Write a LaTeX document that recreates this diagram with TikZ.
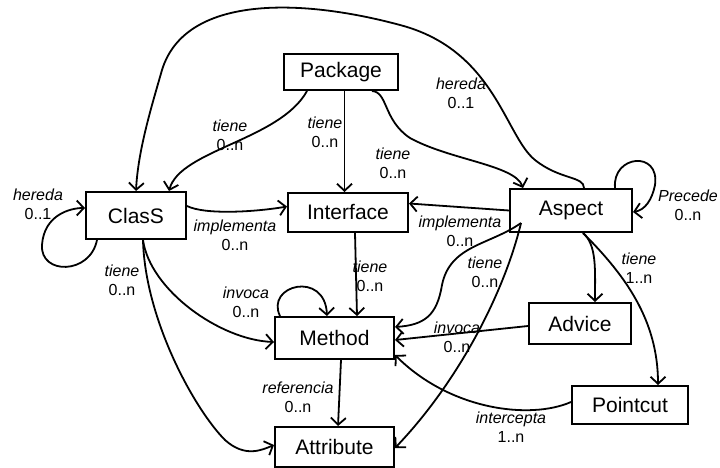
\documentclass[tikz,border=0pt]{standalone}
\usepackage{fontspec}
\setmainfont{Liberation Sans}
\usetikzlibrary{arrows.meta}

\begin{document}
\begin{tikzpicture}[x=1pt, y=-1pt,
  entity/.style={draw, line width=2pt, inner sep=0pt, font=\fontsize{21}{24}\selectfont},
  lbl/.style={align=center, inner sep=0pt, font=\fontsize{16}{19}\selectfont},
  arr/.style={line width=1.8pt, -{Straight Barb[length=7pt, width=15pt]}}]
\useasboundingbox (0,0) rectangle (720,468);
% entities
\node[entity, minimum width=114pt, minimum height=36pt] (package) at (341,72) {Package};
\node[entity, minimum width=100pt, minimum height=47pt] (clas) at (136,215.5) {ClasS};
\node[entity, minimum width=120pt, minimum height=39pt] (iface) at (348,212.5) {Interface};
\node[entity, minimum width=122pt, minimum height=43pt] (aspect) at (571,210.5) {Aspect};
\node[entity, minimum width=119pt, minimum height=42pt] (method) at (334.5,338) {Method};
\node[entity, minimum width=119pt, minimum height=40pt] (attr) at (334.5,447) {Attribute};
\node[entity, minimum width=102pt, minimum height=41pt] (advice) at (580,323.5) {Advice};
\node[entity, minimum width=116pt, minimum height=38pt] (pointcut) at (630,405) {Pointcut};
% labels
\node[lbl] (lClasLoop) at (38,204) {\textit{hereda}\\0..1};
\node[lbl] (lPkgClas) at (230,135) {\textit{tiene}\\0..n};
\node[lbl] (lPkgIface) at (325,132) {\textit{tiene}\\0..n};
\node[lbl] (lPkgAspect) at (393,163) {\textit{tiene}\\0..n};
\node[lbl] (lAspectClas) at (461,93) {\textit{hereda}\\0..1};
\node[lbl] (lClasIface) at (235,235) {\textit{implementa}\\0..n};
\node[lbl] (lAspectIface) at (460,231) {\textit{implementa}\\0..n};
\node[lbl] (lAspectLoop) at (688,205) {\textit{Precede}\\0..n};
\node[lbl] (lClasMethod) at (122,280) {\textit{tiene}\\0..n};
\node[lbl] (lIfaceMethod) at (370,276) {\textit{tiene}\\0..n};
\node[lbl] (lMethodLoop) at (246,302) {\textit{invoca}\\0..n};
\node[lbl] (lAspectMethod) at (485,272) {\textit{tiene}\\0..n};
\node[lbl] (lAspectAdvice) at (639,268) {\textit{tiene}\\1..n};
\node[lbl] (lAdviceMethod) at (457,337) {\textit{invoca}\\0..n};
\node[lbl] (lPointcutMethod) at (511,427) {\textit{intercepta}\\1..n};
\node[lbl] (lMethodAttr) at (298,397) {\textit{referencia}\\0..n};
% connectors
\draw[arr] ([xshift=-39pt]clas.south) .. controls (90,275) and (40,275) .. (42,245)
  .. controls (44,215) and (70,208) .. ([yshift=7.5pt]clas.west);
\draw[arr] ([xshift=-34pt]package.south) .. controls (280,140) and (180,150) .. ([xshift=33pt]clas.north);
\draw[arr] ([xshift=3.5pt]package.south) -- ([xshift=-3.5pt]iface.north);
\draw[arr] ([xshift=31pt]package.south) .. controls (388,92) and (383,120) .. (410,138)
  .. controls (450,160) and (515,165) .. ([xshift=-48pt]aspect.north);
\draw[arr] ([xshift=13pt]aspect.north) .. controls (584,176) and (560,180) .. (535,160)
  .. controls (505,136) and (495,50) .. (400,25)
  .. controls (300,-2) and (185,-5) .. (162,70)
  .. controls (152,105) and (138,150) .. (clas.north);
\draw[arr] ([yshift=9.5pt]clas.east) .. controls (205,215) and (255,212) .. ([yshift=6pt]iface.west);
\draw[arr] (aspect.west) -- ([yshift=9pt]iface.east);
\draw[arr] ([xshift=44pt]aspect.north) .. controls (612,155) and (660,150) .. (655,185)
  .. controls (652,200) and (645,210) .. ([yshift=-1.5pt]aspect.east);
\draw[arr] ([xshift=7pt]clas.south) .. controls (150,290) and (220,340) .. ([yshift=-4pt]method.west);
\draw[arr] ([xshift=7pt]clas.south) .. controls (145,320) and (195,410) .. (225,440)
  .. controls (245,458) and (262,450) .. ([yshift=2pt]attr.west);
\draw[arr] ([xshift=7pt]iface.south) -- ([xshift=22.5pt]method.north);
\draw[arr] ([xshift=-54.5pt]method.north) .. controls (265,285) and (325,270) .. ([xshift=-7.5pt]method.north);
\draw[arr] ([xshift=12pt,yshift=10pt]aspect.south west) .. controls (490,245) and (450,245) .. (442,285)
  .. controls (437,315) and (425,325) .. ([yshift=11pt]method.east);
\draw[arr] ([xshift=12pt,yshift=10pt]aspect.south west) .. controls (505,290) and (460,380) .. ([yshift=-1pt]attr.east);
\draw[arr] ([xshift=12pt]aspect.south) .. controls (597,245) and (595,270) .. ([xshift=15pt]advice.north);
\draw[arr] ([xshift=12pt]aspect.south) .. controls (625,275) and (658,320) .. ([xshift=28pt]pointcut.north);
\draw[arr] ([yshift=-2.5pt]advice.west) -- ([yshift=-2pt]method.east);
\draw[arr] ([yshift=3pt]pointcut.west) .. controls (530,420) and (450,410) .. ([yshift=-17pt]method.east);
\draw[arr] ([xshift=6.5pt]method.south) -- ([xshift=3.5pt]attr.north);
\end{tikzpicture}
\end{document}
